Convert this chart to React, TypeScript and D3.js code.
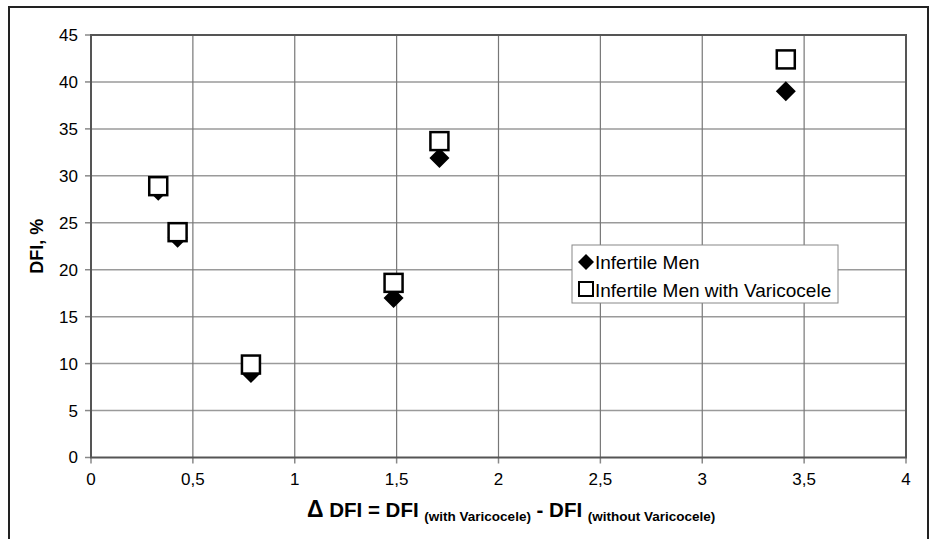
import * as d3 from 'd3';

// x = ΔDFI, y = DFI %
const deltaDFI = [0.33, 0.425, 0.785, 1.485, 1.71, 3.41];
const infertileMen = [28.4, 23.4, 9.0, 17.0, 31.9, 39.0];
const withVaricocele = [28.9, 24.0, 9.9, 18.6, 33.7, 42.4];
const xTicks = [0, 0.5, 1, 1.5, 2, 2.5, 3, 3.5, 4];
const yTicks = [0, 5, 10, 15, 20, 25, 30, 35, 40, 45];
const seriesNames = ['Infertile Men', 'Infertile Men with Varicocele'];

const W = 930;
const H = 539;
const plot = { left: 91, right: 906, top: 35, bottom: 457.5 };
const font = '"Liberation Sans", Arial, sans-serif';

const fmt = (v: number) => String(v).replace('.', ',');

const Diamond = ({ cx, cy, r }: { cx: number; cy: number; r: number }) => (
    <path d={`M${cx},${cy - r}L${cx + r},${cy}L${cx},${cy + r}L${cx - r},${cy}Z`} fill="#000" />
);

const App = () => {
    const x = d3.scaleLinear().domain([0, 4]).range([plot.left, plot.right]);
    const y = d3.scaleLinear().domain([0, 45]).range([plot.bottom, plot.top]);

    const sq = 18;

    return (
        <svg width={W} height={H} style={{ position: 'absolute', left: 0, top: 0, background: '#fff' }} fontFamily={font}>
            {/* outer frame */}
            <rect x={9} y={7} width={919} height={560} fill="none" stroke="#222" strokeWidth={2} />

            {/* gridlines */}
            {yTicks.slice(1).map(t => (
                <line key={'hy' + t} x1={plot.left} x2={plot.right} y1={y(t)} y2={y(t)} stroke="#9a9a9a" strokeWidth={1.5} />
            ))}
            {xTicks.slice(1).map(t => (
                <line key={'vx' + t} x1={x(t)} x2={x(t)} y1={plot.top} y2={plot.bottom} stroke="#777" strokeWidth={1.2} />
            ))}

            {/* ticks */}
            {yTicks.map(t => (
                <line key={'ty' + t} x1={plot.left - 6} x2={plot.left} y1={y(t)} y2={y(t)} stroke="#888" strokeWidth={1.5} />
            ))}
            {xTicks.map(t => (
                <line key={'tx' + t} x1={x(t)} x2={x(t)} y1={plot.bottom} y2={plot.bottom + 6} stroke="#888" strokeWidth={1.5} />
            ))}

            {/* plot border */}
            <rect x={plot.left} y={plot.top} width={plot.right - plot.left} height={plot.bottom - plot.top}
                fill="none" stroke="#555" strokeWidth={2} />

            {/* tick labels */}
            {yTicks.map(t => (
                <text key={'ly' + t} x={78} y={y(t)} dy="0.35em" textAnchor="end" fontSize={17} fill="#000">{fmt(t)}</text>
            ))}
            {xTicks.map(t => (
                <text key={'lx' + t} x={x(t)} y={485} textAnchor="middle" fontSize={17} fill="#000">{fmt(t)}</text>
            ))}

            {/* points */}
            {deltaDFI.map((d, i) => (
                <Diamond key={'d' + i} cx={x(d)} cy={y(infertileMen[i])} r={10} />
            ))}
            {deltaDFI.map((d, i) => (
                <rect key={'s' + i} x={x(d) - sq / 2} y={y(withVaricocele[i]) - sq / 2} width={sq} height={sq}
                    fill="#fff" stroke="#000" strokeWidth={2.5} />
            ))}

            {/* legend */}
            <rect x={572} y={245} width={266} height={58} fill="#fff" stroke="#888" strokeWidth={1} />
            <Diamond cx={586} cy={262} r={8} />
            <rect x={579} y={282} width={14} height={14} fill="#fff" stroke="#000" strokeWidth={2} />
            <text x={595} y={268.5} fontSize={19} fill="#000">{seriesNames[0]}</text>
            <text x={595} y={296.5} fontSize={19} fill="#000">{seriesNames[1]}</text>

            {/* axis titles */}
            <text transform={`translate(43,${(plot.top + plot.bottom) / 2}) rotate(-90)`} textAnchor="middle"
                fontSize={18} fontWeight="bold" fill="#000">DFI, %</text>
            <text x={307} y={517} fontWeight="bold" fill="#000" fontSize={20.5}>
                <tspan fontSize={23}>Δ</tspan>
                <tspan> DFI = DFI </tspan>
                <tspan fontSize={13.5} dy={4}>(with Varicocele)</tspan>
                <tspan dy={-4}> - DFI </tspan>
                <tspan fontSize={13.5} dy={4}>(without Varicocele)</tspan>
            </text>
        </svg>
    );
};

export default App;
